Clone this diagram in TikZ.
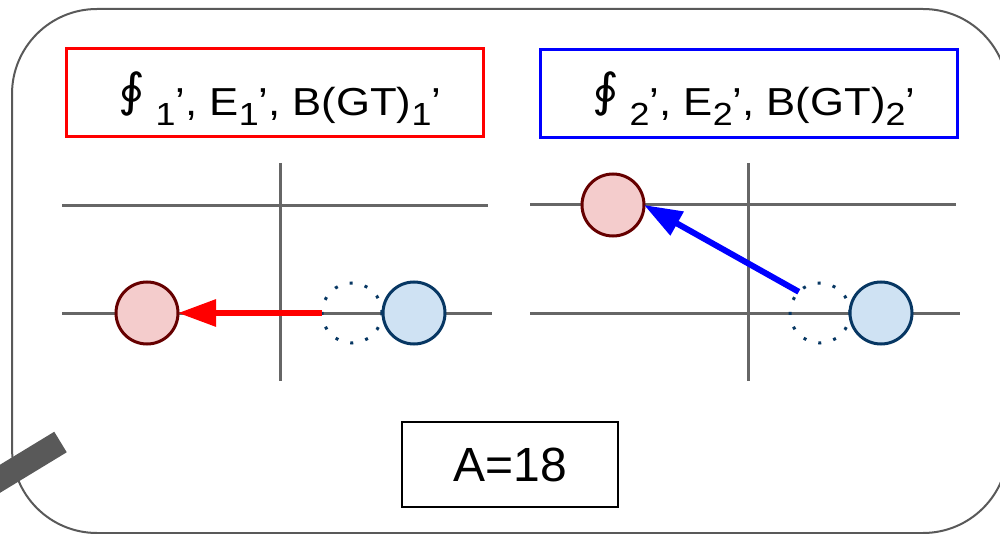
\documentclass[tikz,border=0pt]{standalone}
\usepackage{fontspec}
\setmainfont{Liberation Sans}
\newfontfamily\dejavu{DejaVu Sans}
\usetikzlibrary{arrows.meta}
\definecolor{axisgray}{HTML}{666666}
\definecolor{framegray}{HTML}{595959}
\definecolor{redfill}{HTML}{F4CCCC}
\definecolor{redline}{HTML}{660000}
\definecolor{bluefill}{HTML}{CFE2F3}
\definecolor{blueline}{HTML}{073763}
\newcommand{\lowsub}[1]{\raisebox{-10pt}{\fontsize{32}{32}\selectfont #1}}
\newcommand{\titlefont}{\fontsize{39}{46}\selectfont}
\newcommand{\oisym}{\raisebox{9pt}{\dejavu\fontsize{46}{52}\selectfont ∮}}
\newcommand{\wide}[1]{\scalebox{1.12}[1]{#1}}
\tikzset{
  axis/.style={draw=axisgray, line width=3pt},
  redc/.style={circle, draw=redline, fill=redfill, line width=3pt, minimum size=62pt, inner sep=0pt, outer sep=0pt},
  bluec/.style={circle, draw=blueline, fill=bluefill, line width=3pt, minimum size=62pt, inner sep=0pt, outer sep=0pt},
  dotc/.style={circle, draw=blueline, line width=3pt, dash pattern=on 3pt off 12.5pt, minimum size=60pt, inner sep=0pt, outer sep=0pt},
  titlebox/.style={line width=3pt, minimum width=417pt, minimum height=88pt, inner sep=0pt},
  titletext/.style={anchor=base, inner sep=0pt, font=\titlefont},
  movearrow/.style={line width=6pt, -{Triangle[length=38pt,width=26pt]}},
}
\begin{document}
\begin{tikzpicture}[x=1pt, y=-1pt]
\useasboundingbox (0,0) rectangle (1000,534);
% outer frame
\draw[framegray, line width=2pt, rounded corners=85pt] (12,9) rectangle (1008,533);
\draw[framegray, line width=24pt] (60.5,442) -- (-30,497);
% title boxes
\node[titlebox, draw=red] (t1) at (274.5,92.5) {};
\node[titletext] (t1text) at (280,116) {\wide{\oisym\hspace{9pt}\lowsub{1}’, E\lowsub{1}’, B(GT)\lowsub{1}’}};
\node[titlebox, draw=blue] (t2) at (748.5,93.5) {};
\node[titletext] (t2text) at (754,116) {\wide{\oisym\hspace{9pt}\lowsub{2}’, E\lowsub{2}’, B(GT)\lowsub{2}’}};
% left axes
\coordinate (l1a) at (62,206); \coordinate (l1b) at (488,206);
\coordinate (l2a) at (62,313); \coordinate (l2b) at (492,313);
\coordinate (lva) at (280,163); \coordinate (lvb) at (280,381);
\draw[axis] (l1a) -- (l1b);
\draw[axis] (l2a) -- (l2b);
\draw[axis] (lva) -- (lvb);
% right axes
\coordinate (r1a) at (530,205); \coordinate (r1b) at (956,205);
\coordinate (r2a) at (530,313); \coordinate (r2b) at (960,313);
\coordinate (rva) at (748,163); \coordinate (rvb) at (748,381);
\draw[axis] (r1a) -- (r1b);
\draw[axis] (r2a) -- (r2b);
\draw[axis] (rva) -- (rvb);
% left panel circles
\node[dotc] (d1) at (352,313) {};
\node[bluec] (b1) at (414,313) {};
\node[redc] (p1) at (147,313) {};
\draw[movearrow, red] (d1.west) -- (p1.east);
% right panel circles
\node[dotc] (d2) at (820,313) {};
\node[bluec] (b2) at (881,313) {};
\node[redc] (p2) at (613,205) {};
\draw[movearrow, blue] (d2.135) -- (p2.east);
% mass number
\node[draw=black, line width=1.5pt, minimum width=216pt, minimum height=85pt, inner sep=0pt, font=\fontsize{48}{56}\selectfont] (mass) at (510,464.5) {A=18};
\end{tikzpicture}
\end{document}
